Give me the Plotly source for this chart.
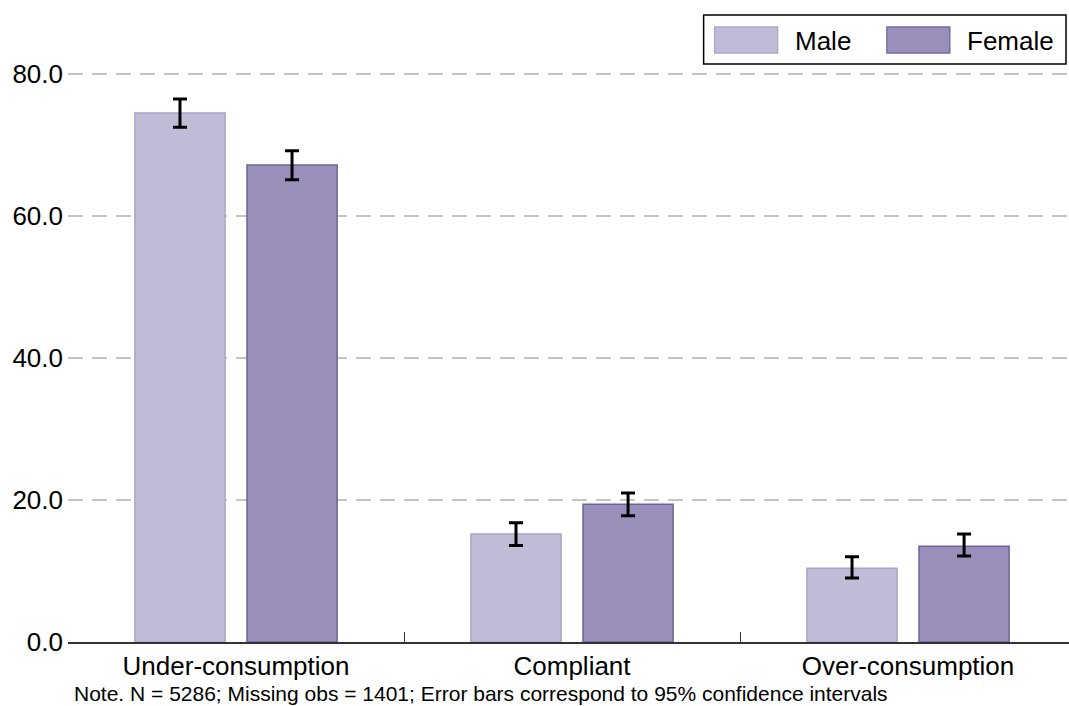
import plotly.graph_objects as go

# categories and series
categories = ["Under-consumption", "Compliant", "Over-consumption"]
male = [74.5, 15.2, 10.4]
female = [67.2, 19.4, 13.5]
male_ci_hi = [76.5, 16.8, 12.0]
male_ci_lo = [72.5, 13.6, 9.0]
female_ci_hi = [69.2, 21.0, 15.2]
female_ci_lo = [65.1, 17.8, 12.1]
y_ticks = [0, 20, 40, 60, 80]
note = "Note. N = 5286; Missing obs = 1401; Error bars correspond to 95% confidence intervals"

male_fill, male_line = "#c1bcd6", "#aaa3cc"
female_fill, female_line = "#9a8fba", "#6e6399"

def err(vals, hi, lo):
    return dict(type="data", symmetric=False,
                array=[h - v for h, v in zip(hi, vals)],
                arrayminus=[v - l for v, l in zip(vals, lo)],
                color="black", thickness=3, width=7)

fig = go.Figure()
fig.add_trace(go.Bar(x=categories, y=male, name="Male",
                     marker=dict(color=male_fill, line=dict(color=male_line, width=1.5)),
                     error_y=err(male, male_ci_hi, male_ci_lo)))
fig.add_trace(go.Bar(x=categories, y=female, name="Female",
                     marker=dict(color=female_fill, line=dict(color=female_line, width=1.5)),
                     error_y=err(female, female_ci_hi, female_ci_lo)))

font = "Liberation Sans, Arial, sans-serif"
fig.update_layout(
    width=1069, height=706,
    margin=dict(l=68, r=0, t=73, b=64),
    paper_bgcolor="white", plot_bgcolor="white",
    barmode="group", bargap=0.333, bargroupgap=0.196,
    showlegend=False,
    font=dict(family=font, size=26, color="black"),
)
fig.update_xaxes(
    type="category", range=[-0.5, 2.479], automargin=False,
    showline=True, linecolor="#333333", linewidth=1.5,
    tickson="boundaries", ticks="inside", ticklen=10, tickwidth=1.2, tickcolor="#333333",
    tickfont=dict(size=26), showgrid=False,
)
fig.update_yaxes(
    range=[0, 80.15], tickvals=y_ticks, tickformat=".1f", automargin=False,
    showgrid=True, gridcolor="#c4c4c4", gridwidth=1.5, griddash="15px,9px",
    zeroline=False, showline=False, ticks="", tickfont=dict(size=26),
    ticklabelstandoff=4,
)

# legend drawn by hand to match the boxed layout (paper coords)
fig.add_shape(type="rect", xref="paper", yref="paper", x0=0.635, x1=0.997, y0=1.0158, y1=1.102,
              line=dict(color="black", width=1.5), fillcolor="white")
for x0, x1, fc, lc in [(0.646, 0.709, male_fill, male_line), (0.818, 0.881, female_fill, female_line)]:
    fig.add_shape(type="rect", xref="paper", yref="paper", x0=x0, x1=x1, y0=1.035, y1=1.081,
                  line=dict(color=lc, width=1.2), fillcolor=fc)
for x, txt in [(0.724, "Male"), (0.896, "Female")]:
    fig.add_annotation(xref="paper", yref="paper", x=x, y=1.057, text=txt, showarrow=False,
                       xanchor="left", yanchor="middle", font=dict(size=26))

fig.add_annotation(xref="paper", yref="paper", x=0.004, y=-0.0898, text=note, showarrow=False,
                   xanchor="left", yanchor="middle", font=dict(size=21))

# drop the default 8px page margin so the figure fills the window, no modebar
fig.write_html("out.html", config={"displayModeBar": False},
               post_script="document.body.style.margin='0px';")
